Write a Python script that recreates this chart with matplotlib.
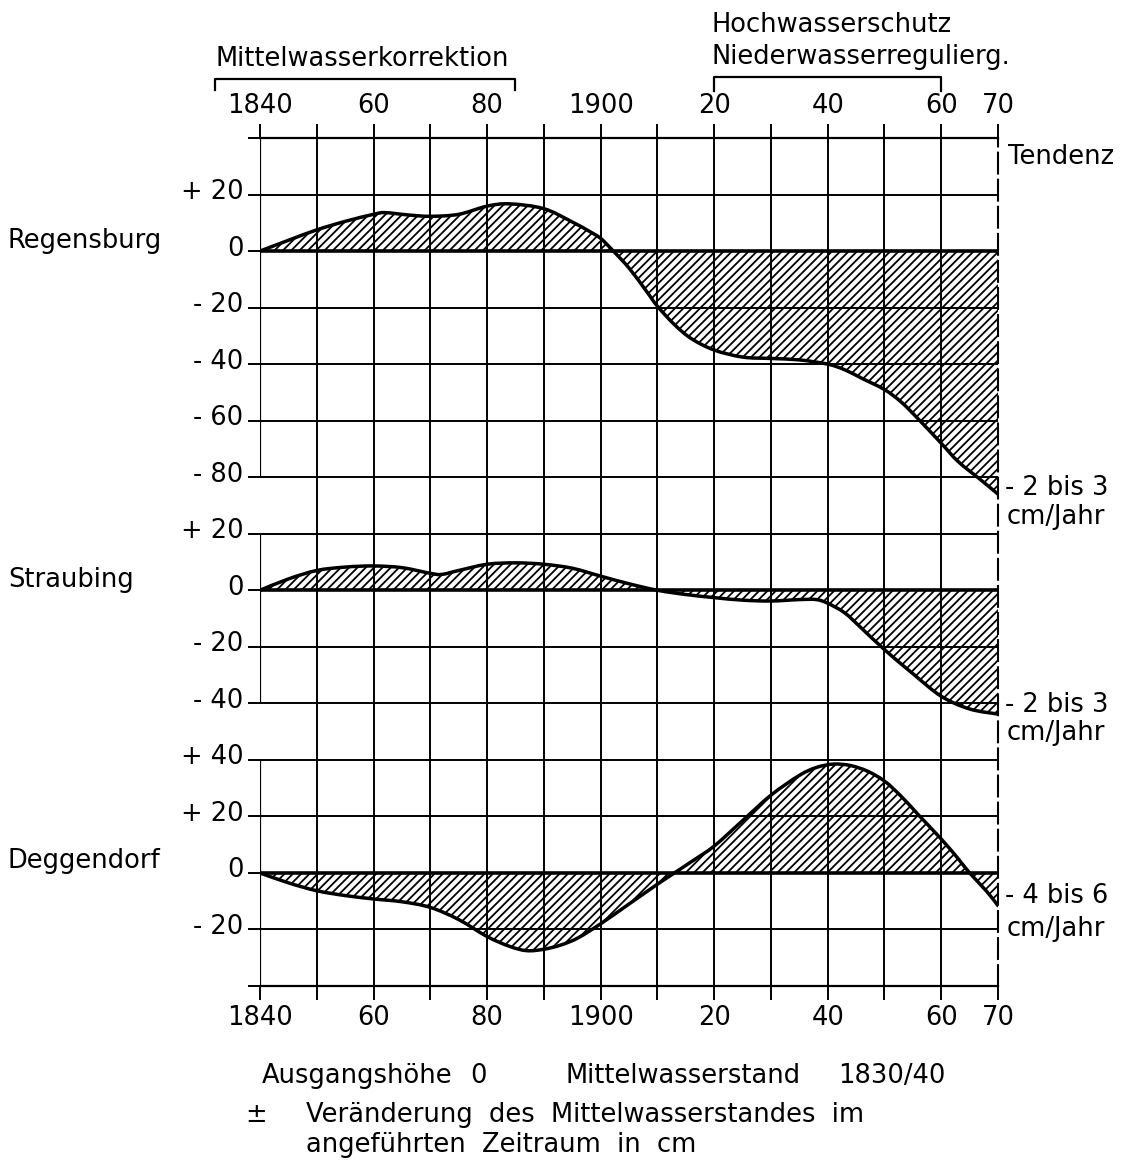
import numpy as np
import matplotlib
matplotlib.use("Agg")
import matplotlib.pyplot as plt
from matplotlib import transforms
from matplotlib.path import Path
from matplotlib.patches import PathPatch

plt.rcParams["hatch.linewidth"] = 1.3
plt.rcParams["font.family"] = ["DejaVu Sans"]

# ---- Daten (Veränderung des Mittelwasserstandes in cm) ----
reg_years = [1840, 1845, 1850, 1855, 1860, 1862, 1866, 1870, 1875, 1880, 1884, 1890, 1895,
             1898, 1900, 1902, 1905, 1908, 1910, 1913, 1916, 1920, 1925, 1930, 1935, 1940,
             1943, 1946, 1950, 1953, 1956, 1960, 1963, 1967, 1970]
reg_cm = [0, 3.8, 7.5, 10.5, 13, 13.6, 12.8, 12.3, 13, 15.9, 16.7, 15, 10.3,
          7, 4.5, 0.5, -6, -14, -19.5, -26, -31, -35, -37.5, -38, -38.5, -40,
          -42, -45, -49, -53.5, -59.5, -68, -74.5, -81, -86]

str_years = [1840, 1845, 1850, 1855, 1860, 1865, 1870, 1872, 1875, 1880, 1885, 1890, 1895,
             1900, 1905, 1910, 1915, 1920, 1925, 1930, 1935, 1938, 1940, 1943, 1946, 1950,
             1955, 1960, 1965, 1970]
str_cm = [0, 4, 7, 8.2, 8.6, 8, 6, 5.6, 7, 9.2, 9.7, 9.2, 7.8,
          5, 2.3, 0, -1.5, -2.6, -3.5, -3.8, -3.3, -3.3, -4.6, -8, -13.5, -21,
          -29.5, -37.5, -42, -43.8]

deg_years = [1840, 1845, 1850, 1855, 1860, 1865, 1870, 1875, 1880, 1884, 1887, 1890, 1893,
             1896, 1900, 1905, 1910, 1913, 1916, 1920, 1925, 1930, 1935, 1938, 1941, 1944,
             1947, 1950, 1953, 1956, 1960, 1963, 1965, 1968, 1970]
deg_cm = [0, -3.5, -6.3, -8, -9.2, -10.2, -12.2, -16.5, -22.5, -26, -27.5, -27, -25.5,
          -23, -18, -11, -4, 0, 4, 9.5, 18.5, 27.5, 34.5, 37.3, 38.5, 38,
          36, 32.5, 27, 20.5, 12, 5, 0, -6.5, -11.6]

stations = ["Regensburg", "Straubing", "Deggendorf"]
tendenz = ["- 2 bis 3", "- 2 bis 3", "- 4 bis 6"]
reg_ticks = [20, 0, -20, -40, -60, -80]
str_ticks = [20, 0, -20, -40]
deg_ticks = [40, 20, 0, -20]

x_ticks = list(range(1840, 1971, 10))
x_labels = {1840: "1840", 1860: "60", 1880: "80", 1900: "1900",
            1920: "20", 1940: "40", 1960: "60", 1970: "70"}

# ---- Layout ----
W, H = 1135, 1164
offsets = [0, -120, -220]  # Nullpunkt jeder Station im gemeinsamen Diagramm
FS = 18.5

fig = plt.figure(figsize=(W / 100, H / 100), dpi=100)
ax = fig.add_axes([260 / W, 1 - 986 / H, 738 / W, (986 - 138) / H])
ax.set_xlim(1840, 1970)
ax.set_ylim(-260, 40)


def ftext(x, y, s, **kw):
    # Text in Pixelkoordinaten (oben links = 0,0)
    fig.text(x / W, 1 - y / H, s, fontsize=kw.pop("fontsize", FS), va=kw.pop("va", "baseline"), **kw)


def smooth(x, y):
    n = len(x)
    verts = [(x[0], y[0])]
    codes = [Path.MOVETO]
    for i in range(n - 1):
        a, b = max(i - 1, 0), min(i + 2, n - 1)
        c1 = (x[i] + (x[i + 1] - x[a]) / 6, y[i] + (y[i + 1] - y[a]) / 6)
        c2 = (x[i + 1] - (x[b] - x[i]) / 6, y[i + 1] - (y[b] - y[i]) / 6)
        verts += [c1, c2, (x[i + 1], y[i + 1])]
        codes += [Path.CURVE4] * 3
    return verts, codes


# Gitter
ax.vlines(range(1850, 1970, 10), -260, 40, color="black", lw=1.4, zorder=2)
ax.hlines(range(-240, 40, 20), 1840, 1970, color="black", lw=1.4, zorder=2)
ax.vlines([1840, 1840, 1840], [-80, -160, -260], [40, -100, -180], color="black", lw=1.6, zorder=2)

for spine in ["top", "bottom"]:
    ax.spines[spine].set_linewidth(1.6)
ax.spines["left"].set_visible(False)
ax.spines["right"].set_linestyle((0, (10, 3)))
ax.spines["right"].set_linewidth(1.5)

# Kurven
series = [(reg_years, reg_cm), (str_years, str_cm), (deg_years, deg_cm)]
for (yrs, cm), off in zip(series, offsets):
    x = np.array(yrs, dtype=float)
    y = np.array(cm, dtype=float) + off
    verts, codes = smooth(x, y)
    area = Path(verts + [(x[-1], off), (x[0], off), (x[0], y[0])],
                codes + [Path.LINETO, Path.LINETO, Path.CLOSEPOLY])
    ax.add_patch(PathPatch(area, facecolor="none", edgecolor="black", hatch="////",
                           linewidth=0, zorder=1))
    ax.add_patch(PathPatch(Path(verts, codes), fill=False, edgecolor="black", lw=2.5,
                           joinstyle="round", capstyle="round", zorder=4))
    ax.plot([1840, 1970], [off, off], color="black", lw=2.6, zorder=4)

# Achsenbeschriftung
def fmt(v):
    if v > 0:
        return "+ %d" % v
    if v < 0:
        return "- %d" % -v
    return "0"

ylab = {}
for ticks, off in zip([reg_ticks, str_ticks, deg_ticks], offsets):
    for t in ticks:
        ylab[t + off] = fmt(t)
y_ticks = list(range(-260, 41, 20))
ax.set_yticks(y_ticks)
ax.set_yticklabels([ylab.get(t, "") for t in y_ticks])
ax.tick_params(axis="y", direction="out", length=9, width=1.4, pad=3, labelsize=FS)
shift = transforms.ScaledTranslation(0, 4 / 72, fig.dpi_scale_trans)
for lbl in ax.get_yticklabels():
    lbl.set_transform(lbl.get_transform() + shift)

ax.set_xticks(x_ticks)
ax.set_xticklabels([x_labels.get(t, "") for t in x_ticks])
ax.tick_params(axis="x", direction="out", length=10, width=1.4, pad=4, labelsize=FS,
               top=True, labeltop=True, bottom=True, labelbottom=True)

# Klammern oben
ax.plot([1832.1, 1832.1, 1884.9, 1884.9], [57, 61, 61, 57], color="black", lw=1.6,
        clip_on=False)
ax.plot([1920, 1920, 1960, 1960], [56.5, 61.5, 61.5, 56.5], color="black", lw=1.6,
        clip_on=False)
ftext(215, 66, "Mittelwasserkorrektion")
ftext(711, 32, "Hochwasserschutz")
ftext(711, 64, "Niederwasserregulierg.")

# Stationen und Tendenz
for name, yb in zip(stations, [248, 587, 868]):
    ftext(8, yb, name)
ftext(1008, 164, "Tendenz")
for t, yb, yb2 in zip(tendenz, [495, 712, 903], [524, 740, 936]):
    ftext(1005, yb, t)
    ftext(1007, yb2, "cm/Jahr")

# Legende unten
ftext(262, 1083, "Ausgangshöhe")
ftext(470, 1083, "0")
ftext(566, 1083, "Mittelwasserstand")
ftext(838, 1083, "1830/40")
ftext(245, 1122, "±")
ftext(306, 1122, "Veränderung  des  Mittelwasserstandes  im")
ftext(306, 1152, "angeführten  Zeitraum  in  cm")

fig.savefig("out.png", dpi=100)
